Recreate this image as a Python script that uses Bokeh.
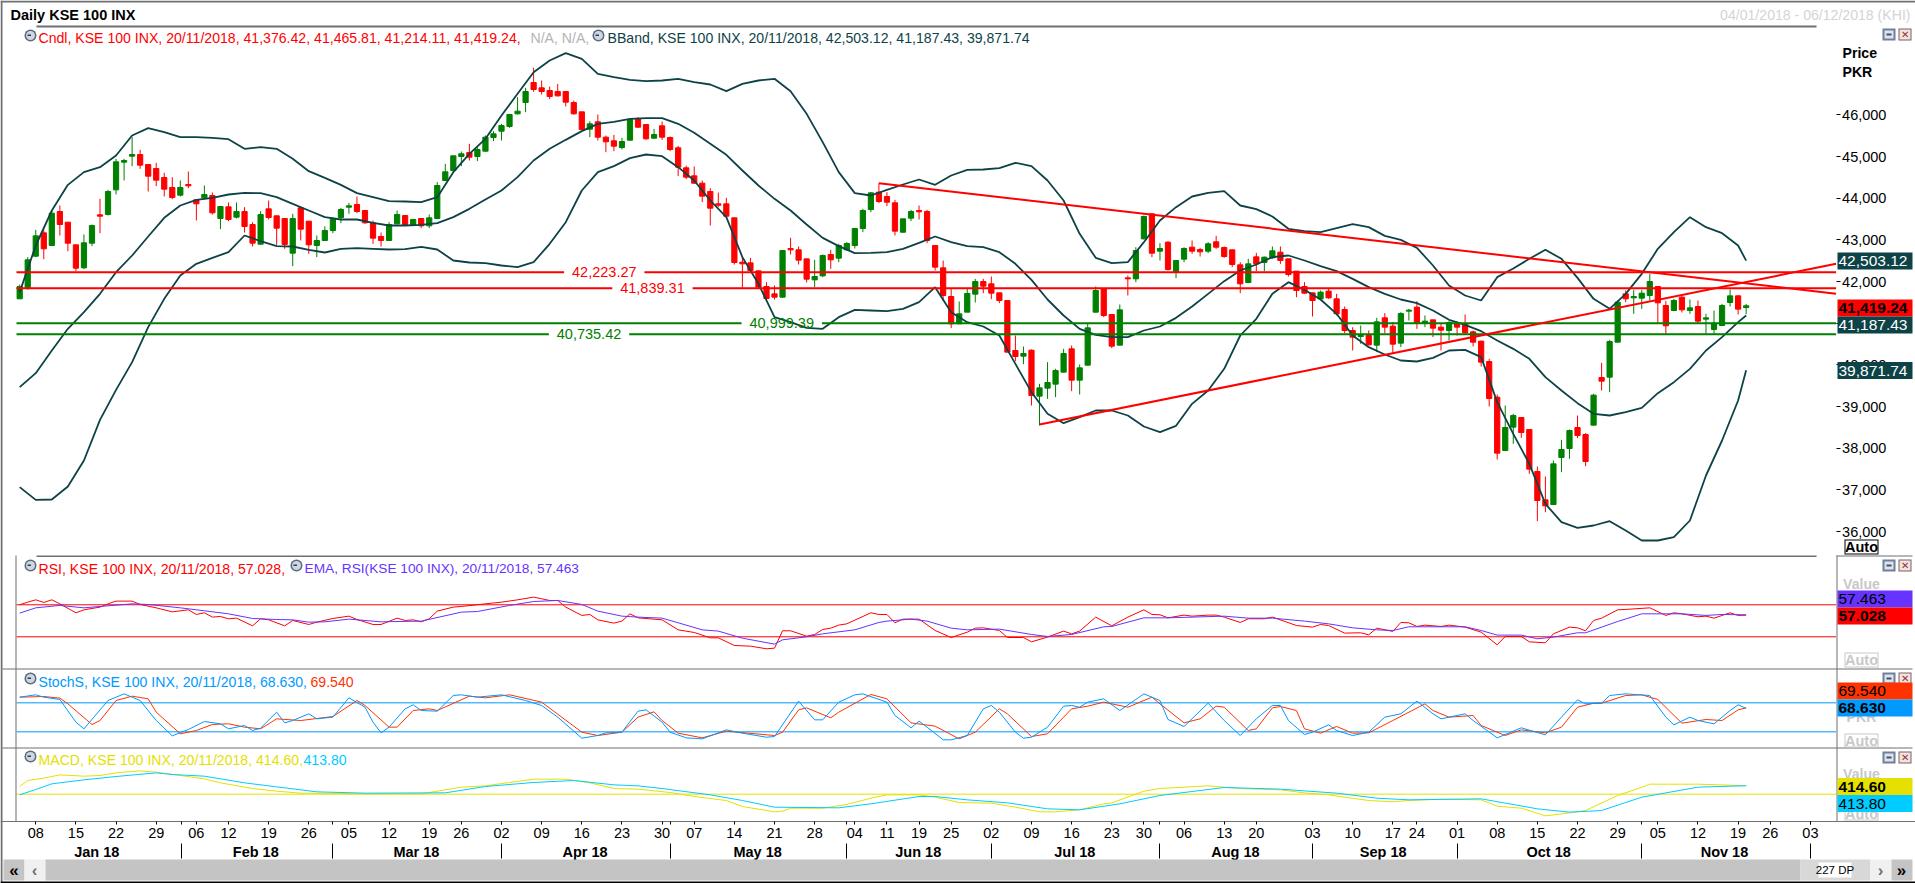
from bokeh.embed import file_html
from bokeh.models import BoxAnnotation, FixedTicker, Label, LinearAxis, NumeralTickFormatter, Range1d
from bokeh.plotting import figure
from bokeh.resources import INLINE

# Daily candles for KSE 100
candle_open = [
    41586, 41850, 42610, 43170, 42866, 43682, 43426, 42882, 42330, 42922,
    43602, 43610, 44202, 44866, 45010, 45050, 44810, 44714, 44498, 44258,
    44074, 44330, 43962, 44010, 44066, 43514, 43794, 43546, 43682, 43370,
    42898, 43746, 43578, 43514, 42682, 43770, 43450, 42866, 42986, 43226,
    43538, 43786, 43850, 43706, 43410, 43082, 42986, 43386, 43586, 43362,
    43514, 43338, 43514, 44426, 44666, 45002, 45098, 45002, 45130, 45458,
    45610, 45722, 46026, 46298, 46778, 46650, 46586, 46562, 46562, 46298,
    46074, 45658, 45834, 45466, 45378, 45218, 45394, 45906, 45770, 45442,
    45738, 45458, 45210, 44730, 44538, 44362, 44162, 43866, 43866, 43530,
    42466, 42450, 42258, 41882, 41706, 41626, 42794, 42762, 42546, 42042,
    42138, 42650, 42562, 42762, 42866, 43274, 43730, 44146, 44042, 43890,
    43186, 43522, 43706, 43682, 42866, 42330, 41642, 40986, 41266, 41698,
    42002, 41946, 41730, 41546, 40346, 40210, 40354, 39250, 39442, 39538,
    39826, 40386, 39634, 39994, 41266, 41826, 41210, 40474, 42090, 42066,
    43026, 43626, 42730, 42946, 42234, 42538, 42826, 42770, 42730, 42954,
    42818, 42762, 42402, 41978, 42594, 42458, 42570, 42706, 42546, 42250,
    41882, 41730, 41586, 41770, 41586, 41330, 40826, 40682, 40706, 40474,
    41130, 40930, 40522, 41290, 41386, 41002, 41082, 40906, 40826, 40986,
    40986, 40794, 40570, 40082, 39226, 37946, 38506, 38738, 38450, 37442,
    36762, 36650, 37778, 37994, 38498, 38330, 38554, 39698, 39706, 40546,
    41706, 41610, 41602, 41666, 41882, 41426, 41306, 41626, 41306, 41402,
    41098, 40850, 40946, 41498, 41658, 41376.42,
]
candle_high = [
    41930, 42586, 43242, 43242, 43706, 43826, 43426, 42882, 43130, 43370,
    43986, 44202, 44946, 44946, 45466, 45162, 44810, 44850, 44610, 44506,
    44426, 44642, 43962, 44306, 44138, 43802, 43898, 43898, 43786, 43426,
    43690, 43946, 43578, 43514, 43626, 43802, 43450, 43106, 43322, 43546,
    43770, 43890, 44042, 43722, 43466, 43178, 43426, 43706, 43586, 43506,
    43514, 43610, 44386, 44826, 45018, 45122, 45306, 45226, 45506, 45610,
    45786, 46026, 46426, 46650, 47130, 46826, 46682, 46746, 46562, 46346,
    46074, 45850, 46010, 45506, 45522, 45450, 45906, 45946, 45770, 45666,
    45842, 45482, 45258, 44786, 44762, 44426, 44242, 44138, 44010, 43530,
    42586, 42570, 42258, 41986, 41906, 42746, 43050, 42842, 42546, 42522,
    42650, 42762, 42906, 42946, 43290, 43746, 44146, 44362, 44146, 43962,
    43506, 43722, 43826, 43722, 42866, 42506, 41826, 41522, 41826, 42066,
    42066, 42122, 41730, 41546, 40706, 40442, 40370, 39546, 40066, 39906,
    40386, 40466, 40010, 40986, 41882, 41826, 41210, 41450, 42146, 42826,
    43586, 43626, 42922, 42970, 42506, 42826, 42986, 42810, 42946, 43098,
    42842, 42762, 42466, 42546, 42690, 42602, 42842, 42842, 42546, 42250,
    41986, 41730, 41786, 41826, 41706, 41402, 40906, 40946, 40826, 41130,
    41242, 41026, 41266, 41346, 41530, 41186, 41082, 40986, 41050, 41050,
    41210, 40826, 40586, 40146, 39290, 39026, 38826, 38738, 38450, 37562,
    37322, 37706, 38202, 38450, 38786, 38362, 39306, 40050, 40602, 41546,
    41786, 41802, 41802, 42186, 41882, 41530, 41586, 41682, 41570, 41546,
    41226, 41306, 41466, 41810, 41674, 41465.81,
]
candle_low = [
    41586, 41802, 42586, 42538, 42850, 43106, 42730, 42250, 42298, 42850,
    43162, 43586, 44090, 44426, 44770, 44706, 44162, 44290, 44042, 43978,
    44042, 44242, 43466, 43986, 43610, 43258, 43450, 43514, 43178, 42842,
    42882, 43490, 42882, 42786, 42370, 42986, 42666, 42586, 42970, 43162,
    43402, 43626, 43642, 43386, 42906, 42842, 42986, 43370, 43346, 43346,
    43282, 43282, 43498, 44410, 44650, 44770, 44906, 44890, 45122, 45370,
    45386, 45690, 46010, 46066, 46554, 46490, 46378, 46442, 46202, 46010,
    45642, 45466, 45386, 45106, 45130, 45170, 45386, 45690, 45402, 45426,
    45402, 45130, 44530, 44458, 44346, 43906, 43346, 43786, 43562, 42410,
    41850, 42250, 41850, 41546, 41570, 41610, 42650, 42410, 41978, 41866,
    42106, 42306, 42466, 42746, 42794, 43186, 43666, 43882, 43810, 43106,
    43170, 43450, 43490, 42922, 42266, 41530, 40882, 40986, 41266, 41498,
    41722, 41578, 41482, 40306, 40090, 40018, 39026, 38546, 39186, 39226,
    39818, 39370, 39290, 39986, 41258, 41146, 40402, 40466, 41666, 41986,
    43010, 42586, 42506, 42266, 42082, 42466, 42666, 42602, 42682, 42786,
    42570, 42346, 41722, 41962, 42250, 42250, 42546, 42426, 42122, 41626,
    41706, 41162, 41570, 41586, 41186, 40762, 40346, 40506, 40466, 40306,
    40762, 40266, 40426, 41066, 40866, 40906, 40666, 40346, 40586, 40706,
    40746, 40442, 39962, 39002, 37730, 37930, 38106, 38250, 37386, 36250,
    36466, 36650, 37426, 37746, 38242, 37570, 38546, 39386, 39346, 40538,
    41506, 41226, 41346, 41546, 41002, 40746, 41290, 41258, 41226, 41002,
    40746, 40746, 40930, 41402, 41210, 41214.11,
]
candle_close = [
    41882, 42522, 43098, 42786, 43642, 43370, 42922, 42322, 42930, 43346,
    43570, 44162, 44874, 44906, 45050, 44794, 44530, 44434, 44218, 44018,
    44258, 44298, 43866, 44090, 43650, 43802, 43490, 43682, 43322, 42922,
    43610, 43538, 43282, 42890, 43514, 43258, 42882, 42986, 43226, 43506,
    43730, 43818, 43682, 43410, 43042, 42986, 43370, 43610, 43370, 43490,
    43338, 43530, 44306, 44634, 45018, 45066, 44986, 45170, 45466, 45546,
    45746, 46010, 46090, 46562, 46610, 46562, 46442, 46458, 46306, 46026,
    45650, 45786, 45466, 45354, 45250, 45362, 45890, 45706, 45426, 45530,
    45466, 45170, 44746, 44506, 44362, 44050, 43762, 43834, 43570, 42458,
    42426, 42266, 41866, 41594, 41626, 42746, 42762, 42514, 42058, 42122,
    42626, 42522, 42866, 42914, 43274, 43706, 44130, 43922, 43906, 43210,
    43506, 43682, 43674, 42986, 42346, 41666, 40986, 41226, 41714, 42002,
    41890, 41722, 41546, 40306, 40202, 40274, 39266, 39450, 39578, 39866,
    40274, 39634, 39930, 40890, 41786, 41186, 40450, 41322, 42066, 42746,
    43562, 42682, 42794, 42290, 42506, 42794, 42730, 42714, 42906, 42826,
    42602, 42410, 41946, 42426, 42426, 42586, 42738, 42506, 42170, 41786,
    41722, 41546, 41746, 41610, 41226, 40826, 40666, 40706, 40482, 41034,
    40906, 40498, 41234, 41314, 41010, 41050, 40882, 40834, 41018, 40906,
    40770, 40546, 40066, 39194, 37882, 38498, 38786, 38378, 37498, 36746,
    36618, 37626, 37970, 38426, 38306, 37682, 39274, 39610, 40562, 41506,
    41586, 41642, 41722, 42002, 41490, 40938, 41546, 41322, 41370, 41050,
    41130, 41002, 41426, 41658, 41338, 41419.24,
]

# Bollinger bands, read every second bar plus the last one
band_bars = list(range(0, 216, 2)) + [215]
band_upper = [
    41746, 42866, 43706, 44322, 44626, 44746, 45026, 45506, 45682, 45586,
    45466, 45466, 45450, 45418, 45186, 45226, 45186, 44946, 44650, 44490,
    44322, 44122, 44026, 43930, 43922, 43906, 44026, 44626, 45066, 45426,
    45986, 46506, 47026, 47306, 47482, 47346, 46986, 46906, 46842, 46810,
    46826, 46866, 46786, 46730, 46570, 46746, 46826, 46866, 46570, 46026,
    45346, 44626, 44122, 44066, 44202, 44330, 44450, 44322, 44546, 44682,
    44690, 44722, 44850, 44770, 44426, 43946, 43146, 42570, 42442, 42466,
    42946, 43466, 43786, 44042, 44130, 44170, 43826, 43738, 43562, 43266,
    43210, 43186, 43282, 43378, 43306, 43098, 43002, 42810, 42386, 41906,
    41666, 41546, 42106, 42314, 42546, 42762, 42546, 42090, 41586, 41346,
    41706, 42186, 42786, 43186, 43546, 43306, 43162, 42866, 42503.12,
]
band_middle = [
    39466, 39802, 40346, 40866, 41266, 41706, 42226, 42626, 43082, 43530,
    43826, 43962, 44010, 44090, 44130, 44122, 44026, 43866, 43706, 43546,
    43490, 43490, 43410, 43346, 43346, 43362, 43402, 43546, 43746, 43970,
    44186, 44506, 44906, 45186, 45402, 45610, 45786, 45834, 45906, 45922,
    45922, 45786, 45570, 45306, 45042, 44666, 44306, 43986, 43706, 43370,
    43050, 42850, 42682, 42690, 42706, 42786, 42930, 43082, 42946, 42850,
    42826, 42706, 42426, 42042, 41570, 41186, 40866, 40722, 40666, 40666,
    40826, 40922, 41130, 41402, 41706, 42010, 42266, 42410, 42586, 42626,
    42506, 42370, 42250, 42066, 41866, 41706, 41570, 41482, 41306, 41082,
    40962, 40810, 40586, 40386, 40146, 39706, 39386, 39082, 38826, 38786,
    38866, 38970, 39322, 39586, 39906, 40346, 40666, 41026, 41187.43,
]
band_lower = [
    37066, 36762, 36770, 37082, 37706, 38682, 39402, 40066, 40906, 41586,
    42146, 42426, 42570, 42706, 43106, 42970, 42850, 42842, 42762, 42698,
    42786, 42802, 42786, 42770, 42778, 42834, 42770, 42506, 42458, 42442,
    42386, 42346, 42466, 42906, 43426, 44186, 44626, 44770, 44962, 45050,
    45010, 44746, 44426, 43946, 43546, 42586, 41946, 41146, 41026, 40890,
    40866, 41146, 41322, 41306, 41290, 41346, 41506, 41866, 41266, 41026,
    40922, 40706, 40026, 39346, 38826, 38602, 38746, 38906, 38906, 38786,
    38522, 38386, 38538, 39066, 39386, 39906, 40706, 41106, 41706, 41986,
    41802, 41570, 41226, 40706, 40426, 40250, 40106, 40082, 40170, 40346,
    40362, 40186, 39106, 38346, 37626, 36666, 36226, 36090, 36146, 36250,
    36026, 35786, 35786, 35866, 36266, 37346, 38186, 39146, 39871.74,
]

# Horizontal price levels: value, colour, bar where the value is written
level_values = [42223.27, 41839.31, 40999.39, 40735.42]
level_texts = ["42,223.27", "41,839.31", "40,999.39", "40,735.42"]
level_colors = ["#ff0000", "#ff0000", "#008000", "#008000"]
level_bars = [72.8, 78.8, 94.9, 70.9]

# Trend lines
trend_bars = [[107, 226.2], [127, 226.2]]
trend_prices = [[44362, 41706], [38570, 42426]]

# (bar, value) readings of the indicators
rsi_points = [
    (0, 70.0), (1, 73.3), (2, 76.2), (3, 72.9), (4, 76.2), (5, 71.2), (7, 60.0), (8, 63.7), (10, 67.1), (11, 71.2),
    (12, 74.6), (14, 74.6), (15, 70.4), (17, 66.2), (19, 61.2), (21, 63.7), (22, 57.9), (23, 60.0), (24, 54.6),
    (25, 55.4), (26, 52.5), (27, 53.3), (29, 43.7), (30, 52.5), (31, 51.2), (33, 43.7), (34, 50.4), (36, 45.4),
    (37, 48.3), (39, 52.9), (41, 55.8), (42, 51.6), (44, 45.4), (45, 45.4), (47, 53.3), (48, 50.4), (49, 51.2),
    (50, 48.7), (51, 52.5), (52, 62.1), (54, 67.1), (55, 67.9), (58, 71.2), (60, 73.3), (62, 76.2), (64, 79.6),
    (65, 77.5), (66, 75.4), (67, 75.4), (68, 67.1), (70, 56.7), (71, 57.9), (72, 51.2), (74, 47.1), (75, 49.6),
    (76, 58.7), (77, 53.7), (80, 51.2), (82, 38.7), (84, 35.4), (86, 28.7), (87, 28.7), (89, 19.1), (91, 18.3),
    (93, 15.0), (94, 15.8), (95, 37.5), (96, 37.5), (98, 30.8), (99, 32.9), (100, 39.1), (101, 40.8), (102, 44.6),
    (103, 46.2), (106, 60.0), (107, 57.9), (108, 57.9), (109, 47.5), (110, 52.1), (112, 52.1), (114, 37.9),
    (116, 29.1), (118, 35.8), (119, 40.8), (120, 41.2), (122, 37.9), (123, 29.1), (125, 29.1), (126, 23.7),
    (128, 29.6), (130, 37.1), (131, 33.7), (132, 37.1), (134, 54.6), (136, 43.7), (138, 54.6), (140, 63.7),
    (141, 57.9), (142, 57.5), (143, 53.7), (145, 57.1), (146, 55.8), (148, 57.1), (149, 57.1), (150, 54.6),
    (152, 47.9), (153, 52.5), (155, 52.5), (156, 54.6), (159, 44.1), (161, 42.1), (162, 45.4), (163, 44.1),
    (165, 34.6), (167, 35.0), (168, 32.5), (169, 40.8), (171, 36.7), (172, 47.9), (173, 47.5), (174, 42.9),
    (175, 44.6), (177, 42.9), (178, 44.6), (180, 42.1), (182, 35.8), (184, 20.0), (185, 30.4), (187, 30.4),
    (188, 23.7), (190, 22.5), (191, 33.7), (193, 42.1), (194, 41.2), (195, 37.5), (196, 50.4), (197, 53.3),
    (199, 63.7), (200, 64.2), (203, 66.2), (205, 56.7), (206, 60.0), (207, 58.7), (209, 55.0), (210, 55.8),
    (211, 53.3), (213, 60.0), (214, 56.7), (215, 57.028),
]
rsi_ema_points = [
    (0, 59.6), (2, 66.2), (5, 69.2), (8, 66.2), (10, 67.9), (14, 71.2), (16, 70.4), (20, 66.2), (23, 62.5),
    (26, 58.7), (29, 52.9), (32, 51.6), (34, 51.2), (36, 48.3), (38, 48.7), (41, 52.1), (45, 48.7), (50, 49.6),
    (55, 60.8), (57, 61.6), (61, 69.2), (64, 74.1), (67, 75.4), (70, 70.4), (72, 62.1), (75, 55.8), (77, 54.6),
    (80, 53.3), (82, 47.5), (85, 38.7), (87, 37.1), (90, 28.3), (94, 20.8), (95, 26.2), (98, 30.0), (100, 33.7),
    (104, 38.7), (107, 47.9), (108, 49.6), (111, 52.1), (113, 49.6), (116, 40.8), (118, 38.7), (122, 39.6),
    (126, 32.9), (128, 30.4), (131, 32.9), (135, 42.5), (136, 42.9), (140, 53.7), (143, 53.7), (150, 55.8),
    (153, 53.3), (156, 53.3), (160, 49.6), (163, 46.2), (166, 41.2), (169, 38.7), (171, 37.9), (173, 42.5),
    (176, 42.5), (180, 42.5), (182, 37.9), (184, 32.1), (187, 32.1), (189, 27.5), (191, 29.6), (194, 35.0),
    (195, 35.0), (199, 49.1), (202, 58.7), (207, 58.7), (210, 56.7), (212, 57.9), (215, 57.463),
]
stoch_k_points = [
    (0, 91.7), (2, 96.6), (3, 91.7), (5, 86.9), (7, 40.0), (8, 26.2), (11, 84.8), (13, 98.6), (15, 84.8), (17, 43.4),
    (19, 11.7), (21, 24.8), (23, 41.4), (25, 36.6), (26, 26.2), (28, 33.1), (29, 22.8), (30, 27.6), (32, 60.7),
    (33, 38.6), (34, 43.4), (36, 57.3), (37, 46.9), (39, 50.4), (41, 90.4), (43, 71.0), (44, 40.0), (45, 17.9),
    (46, 29.7), (48, 67.6), (49, 75.9), (50, 64.1), (52, 62.8), (54, 95.2), (55, 96.6), (57, 91.7), (60, 96.6),
    (63, 84.8), (65, 74.5), (67, 50.4), (70, 6.9), (72, 12.4), (73, 17.9), (75, 19.3), (77, 62.8), (78, 65.5),
    (80, 40.0), (81, 19.3), (83, 7.6), (85, 5.5), (88, 24.1), (90, 17.2), (93, 8.9), (94, 10.3), (97, 83.5),
    (99, 44.8), (100, 44.8), (102, 81.4), (104, 96.6), (105, 98.6), (108, 81.4), (109, 53.8), (111, 28.3),
    (112, 42.1), (113, 29.7), (115, 3.5), (116, 3.5), (118, 12.4), (120, 67.6), (121, 74.5), (122, 60.7),
    (124, 19.3), (125, 6.9), (126, 8.9), (128, 29.7), (130, 73.1), (131, 74.5), (132, 71.0), (133, 81.4),
    (135, 88.3), (137, 64.1), (140, 98.6), (142, 84.8), (143, 45.5), (145, 31.1), (148, 79.3), (150, 43.4),
    (152, 12.4), (154, 46.9), (156, 74.5), (157, 74.5), (158, 43.4), (160, 14.5), (161, 19.3), (163, 34.5),
    (164, 22.8), (166, 12.4), (168, 19.3), (170, 50.4), (172, 57.3), (174, 83.5), (176, 57.3), (177, 46.9),
    (180, 57.3), (181, 43.4), (184, 7.6), (187, 28.3), (190, 13.8), (192, 50.4), (194, 86.2), (195, 77.9),
    (197, 79.3), (198, 95.2), (200, 98.6), (203, 95.2), (205, 50.4), (206, 34.5), (208, 50.4), (209, 43.4),
    (211, 36.6), (213, 64.1), (214, 75.9), (215, 68.63),
]
stoch_d_points = [
    (0, 91.7), (3, 93.1), (5, 89.7), (6, 77.9), (9, 35.2), (10, 43.4), (12, 84.8), (14, 93.8), (16, 88.3), (17, 60.7),
    (20, 15.9), (22, 22.8), (24, 35.2), (26, 36.6), (28, 29.7), (30, 26.2), (32, 46.9), (35, 43.4), (39, 51.7),
    (42, 84.8), (43, 74.5), (46, 29.7), (47, 29.7), (49, 64.1), (51, 67.6), (52, 64.1), (56, 93.8), (58, 90.4),
    (61, 96.6), (65, 81.4), (70, 19.3), (72, 12.4), (75, 19.3), (77, 50.4), (79, 61.4), (80, 43.4), (82, 17.2),
    (85, 7.6), (88, 21.4), (94, 12.4), (95, 19.3), (97, 65.5), (98, 69.6), (101, 49.0), (102, 60.7), (106, 97.3),
    (108, 88.3), (111, 38.6), (114, 31.7), (117, 5.5), (119, 19.3), (122, 67.6), (123, 57.3), (126, 10.3),
    (128, 15.9), (131, 67.6), (133, 73.1), (135, 81.4), (138, 71.0), (141, 91.7), (142, 77.9), (145, 38.6),
    (147, 46.9), (149, 73.1), (150, 71.0), (153, 22.8), (154, 26.2), (156, 69.6), (157, 72.4), (159, 64.1),
    (160, 26.2), (162, 17.2), (164, 31.1), (166, 17.2), (168, 17.9), (171, 43.4), (175, 77.9), (176, 64.1),
    (178, 50.4), (181, 53.8), (182, 33.1), (185, 12.4), (187, 24.1), (190, 17.9), (192, 29.7), (194, 71.0),
    (196, 79.3), (197, 79.3), (200, 95.2), (202, 96.6), (204, 86.9), (207, 37.9), (210, 45.5), (212, 43.4),
    (214, 65.5), (215, 69.54),
]
macd_points = [
    (0, 375), (1, 668), (3, 782), (5, 945), (8, 880), (10, 913), (12, 1043), (15, 1141), (17, 1076), (20, 913),
    (23, 750), (25, 554), (29, 277), (32, 147), (35, 49), (40, 33), (43, 16), (50, 16), (52, 147), (55, 342),
    (58, 408), (61, 571), (64, 734), (68, 734), (71, 554), (74, 277), (77, 245), (81, 82), (84, -114), (88, -310),
    (90, -603), (94, -864), (95, -831), (96, -685), (100, -685), (103, -505), (106, -196), (108, -33), (112, -33),
    (114, -147), (117, -408), (121, -440), (124, -636), (127, -864), (129, -864), (132, -766), (135, -473),
    (136, -424), (140, 147), (142, 277), (145, 342), (148, 408), (152, 277), (157, 212), (160, 65), (163, -33),
    (165, -147), (168, -310), (171, -375), (173, -310), (177, -245), (182, -277), (184, -587), (187, -685),
    (190, -1060), (193, -913), (195, -799), (199, -65), (202, 342), (203, 489), (209, 489), (213, 440), (215, 414.6),
]
macd_signal_points = [
    (0, -33), (2, 228), (4, 505), (8, 701), (12, 864), (17, 1043), (19, 962), (23, 880), (28, 554), (32, 359),
    (37, 114), (43, 49), (53, 65), (58, 375), (64, 571), (69, 668), (74, 456), (77, 408), (80, 277), (86, -33),
    (90, -310), (94, -636), (102, -668), (106, -473), (112, -114), (114, -114), (118, -277), (123, -424),
    (128, -717), (132, -766), (137, -473), (142, -65), (150, 326), (157, 245), (164, 49), (169, -196), (173, -277),
    (182, -228), (189, -717), (193, -880), (197, -799), (202, -147), (209, 342), (215, 413.8),
]

# Bottom axis
week_bars = [2, 7, 12, 17, 22, 26, 31, 36, 41, 46, 51, 55, 60, 65, 70, 75, 80, 84, 89, 94, 99, 104, 108, 112, 116,
             121, 126, 131, 136, 140, 145, 150, 154, 161, 166, 171, 174, 179, 184, 189, 194, 199, 204, 209, 214, 218,
             223]
week_labels = ["08", "15", "22", "29", "06", "12", "19", "26", "05", "12", "19", "26", "02", "09", "16", "23", "30",
               "07", "14", "21", "28", "04", "11", "19", "25", "02", "09", "16", "23", "30", "06", "13", "20", "03",
               "10", "17", "24", "01", "08", "15", "22", "29", "05", "12", "19", "26", "03"]
month_bars = [9.6, 29.4, 49.4, 70.4, 91.9, 111.9, 131.4, 151.4, 169.8, 190.4, 212.3]
month_labels = ["Jan 18", "Feb 18", "Mar 18", "Apr 18", "May 18", "Jun 18", "Jul 18", "Aug 18", "Sep 18", "Oct 18",
                "Nov 18"]
month_edges = [20.1, 39, 60, 81, 103, 121, 142, 161, 179, 202, 223]
price_ticks = [36000, 37000, 38000, 39000, 40000, 41000, 42000, 43000, 44000, 45000, 46000]

FONT = "Liberation Sans"
RED = "#ff0000"
GREEN = "#008000"
BAND = "#0d4347"
RSI_EMA = "#6633ff"
STOCH_BLUE = "#0099ff"
STOCH_RED = "#ff3300"
MACD_YELLOW = "#e6e000"
MACD_BLUE = "#00ccff"
GREY = "#c8c8c8"
RULE = "#707070"
TEXT_SIZE = "14.1px"

# the frame fills the page, so the window furniture round the chart is not clipped
BAR_LEFT, BAR_RIGHT = -0.4, 226.2


def unzip(points):
    return [b for b, _ in points], [v for _, v in points]


p = figure(width=1915, height=883, output_backend="svg", toolbar_location=None, tools="",
           x_range=Range1d(-2.391, 236.09), y_range=Range1d(27554, 48746),
           x_axis_location=None, y_axis_location=None, min_border=0, outline_line_color=None)
p.grid.visible = False

# every indicator shares the frame, its range places it in its own strip
p.extra_y_ranges = {
    "rsi": Range1d(-278.4, 825.4),
    "stoch": Range1d(-293.8, 1533.2),
    "macd": Range1d(-4368, 38810),
}

# Axes sit inside the frame at a fixed location, so they take no border space
price_axis = LinearAxis(ticker=FixedTicker(ticks=price_ticks), formatter=NumeralTickFormatter(format="0,0"),
                        fixed_location=BAR_RIGHT, axis_line_color=None, major_tick_in=0, major_tick_out=4,
                        minor_tick_line_color=None, major_label_standoff=2, major_label_text_font=FONT,
                        major_label_text_font_size="14.5px", major_label_text_color="#000000")
p.add_layout(price_axis, "right")

week_axis = LinearAxis(ticker=FixedTicker(ticks=week_bars, minor_ticks=month_edges),
                       major_label_overrides=dict(zip(week_bars, week_labels)), fixed_location=29042,
                       axis_line_color=RULE, major_tick_in=0, major_tick_out=3, minor_tick_in=0, minor_tick_out=3,
                       major_label_standoff=3, major_label_text_font=FONT, major_label_text_font_size="14.5px",
                       major_label_text_color="#000000")
p.add_layout(week_axis, "below")

month_axis = LinearAxis(ticker=FixedTicker(ticks=[], minor_ticks=month_edges), fixed_location=28514,
                        axis_line_color=None, major_tick_line_color=None, major_tick_in=0, major_tick_out=0,
                        minor_tick_in=0, minor_tick_out=15, minor_tick_line_color="#000000",
                        major_label_text_font_size="0px")
p.add_layout(month_axis, "below")

# Candles
bars = list(range(len(candle_open)))
candle_colors = [GREEN if c >= o else RED for o, c in zip(candle_open, candle_close)]
p.segment(bars, candle_high, bars, candle_low, color=candle_colors, line_width=1)
p.vbar(bars, top=candle_open, bottom=candle_close, width=0.65, fill_color=candle_colors, line_color=candle_colors)

# Bollinger bands
for band in (band_upper, band_middle, band_lower):
    p.line(band_bars, band, color=BAND, line_width=1.8)

# Price levels, broken where their value is written
for value, text_value, color, bar in zip(level_values, level_texts, level_colors, level_bars):
    p.segment([BAR_LEFT, bar + 5], [value, value], [bar - 5, BAR_RIGHT], [value, value], color=color, line_width=2)
    p.add_layout(Label(x=bar, y=value, text=text_value, text_color=color, text_align="center", text_baseline="middle",
                       text_font=FONT, text_font_size="14.5px"))

p.multi_line(trend_bars, trend_prices, color=RED, line_width=2)

# RSI strip
p.segment([BAR_LEFT, BAR_LEFT], [70, 30], [BAR_RIGHT, BAR_RIGHT], [70, 30], color=RED, line_width=1,
          y_range_name="rsi")
x, y = unzip(rsi_points)
p.line(x, y, color=RED, line_width=1, y_range_name="rsi")
x, y = unzip(rsi_ema_points)
p.line(x, y, color=RSI_EMA, line_width=1, y_range_name="rsi")

# Stochastic strip
p.segment([BAR_LEFT, BAR_LEFT], [80, 20], [BAR_RIGHT, BAR_RIGHT], [80, 20], color=STOCH_BLUE, line_width=1,
          y_range_name="stoch")
x, y = unzip(stoch_d_points)
p.line(x, y, color=STOCH_RED, line_width=1, y_range_name="stoch")
x, y = unzip(stoch_k_points)
p.line(x, y, color=STOCH_BLUE, line_width=1, y_range_name="stoch")

# MACD strip
p.segment([BAR_LEFT], [0], [BAR_RIGHT], [0], color=MACD_YELLOW, line_width=1, y_range_name="macd")
x, y = unzip(macd_points)
p.line(x, y, color=MACD_YELLOW, line_width=1, y_range_name="macd")
x, y = unzip(macd_signal_points)
p.line(x, y, color=MACD_BLUE, line_width=1, y_range_name="macd")


# Window furniture around the chart, placed in page pixels
def box(x0, y0, x1, y1, color, **kw):
    p.add_layout(BoxAnnotation(left=x0, right=x1, top=y0, bottom=y1, left_units="canvas", right_units="canvas",
                               top_units="canvas", bottom_units="canvas", fill_color=color, fill_alpha=1,
                               line_color=None, **kw))


def text(x, y, value, color="#000000", size=TEXT_SIZE, style="normal", align="left"):
    p.add_layout(Label(x=x, y=y, x_units="canvas", y_units="canvas", text=value, text_color=color,
                       text_font=FONT, text_font_size=size, text_font_style=style, text_align=align,
                       text_baseline="middle"))


def tag(y, value, fill, color, style="normal"):
    box(1837, y - 8.5, 1912, y + 8.5, fill)
    text(1838, y, value, color=color, style=style, size="15.5px")


def auto_button(y0, y1, color):
    box(1844, y0, 1878, y1, color)
    box(1845, y0 + 1, 1877, y1 - 1, "#ffffff")
    text(1861, (y0 + y1) / 2, "Auto", color=color, style="bold", align="center", size="14.5px")


def window_buttons(y):
    box(1882, y - 6, 1895, y + 6, "#6f7f9f")
    box(1884, y - 4, 1893, y + 4, "#dfe3ea")
    box(1886, y - 1, 1891, y + 1, "#3f4f6f")
    box(1898, y - 6, 1911, y + 6, "#7f5f5f")
    box(1899, y - 5, 1910, y + 5, "#efe3e3")
    text(1904.5, y, "\u2715", color="#a03030", size="10px", align="center")


def clock(x, y):
    box(x - 6, y - 6, x + 6, y + 6, "#5a6a80", border_radius=6)
    box(x - 4.5, y - 4.5, x + 4.5, y + 4.5, "#cfd6e0", border_radius=5)
    box(x - 3, y - 1, x + 0.5, y + 0.5, "#30405a")


# month names under the weeks
for bar, month in zip(month_bars, month_labels):
    p.add_layout(Label(x=bar, y=851, y_units="canvas", text=month, text_color="#000000", text_font=FONT,
                       text_font_size="14.5px", text_font_style="bold", text_align="center",
                       text_baseline="middle"))

# frame rules
box(0, 0, 1915, 2, RULE)
box(0, 0, 2, 883, RULE)
box(36, 25, 1816, 27, RULE)
box(36, 555, 1816, 556.5, RULE)
box(2, 668, 1836, 669, RULE)
box(2, 747, 1836, 748, RULE)
box(15, 555, 16, 821, RULE)
box(1836, 555, 1837, 821, RULE)
box(1836, 555, 1912, 556, RULE)
box(1836, 668, 1912, 669, RULE)
box(1836, 747, 1912, 748, RULE)

# titles
text(10, 14, "Daily KSE 100 INX", style="bold", size="14.5px")
text(1910, 14, "04/01/2018 - 06/12/2018 (KHI)", color="#d4d4d4", align="right")
text(1842, 52, "Price", style="bold")
text(1842, 71, "PKR", style="bold")

# legends
clock(30, 35)
text(38, 37, "Cndl, KSE 100 INX, 20/11/2018, 41,376.42, 41,465.81, 41,214.11, 41,419.24,", color=RED)
text(530, 37, "N/A, N/A,", color="#b4b4b4")
clock(598, 35)
text(607, 37, "BBand, KSE 100 INX, 20/11/2018, 42,503.12, 41,187.43, 39,871.74", color=BAND)

clock(30, 565)
text(38, 568, "RSI, KSE 100 INX, 20/11/2018, 57.028,", color=RED)
clock(296, 565)
text(304, 568, "EMA, RSI(KSE 100 INX), 20/11/2018, 57.463", color=RSI_EMA, size="13.7px")

clock(30, 678)
text(38, 681, "StochS, KSE 100 INX, 20/11/2018, 68.630,", color=STOCH_BLUE)
text(310, 681, "69.540", color=STOCH_RED)

clock(30, 756)
text(38, 759, "MACD, KSE 100 INX, 20/11/2018, 414.60,", color=MACD_YELLOW)
text(303, 759, "413.80", color=MACD_BLUE)

# right hand side
for y in (34, 565, 678, 757):
    window_buttons(y)
auto_button(539, 554, "#000000")
auto_button(652, 667, GREY)
auto_button(733, 747, GREY)
auto_button(807, 820, GREY)
text(1861, 583, "Value", color=GREY, style="bold", align="center")
text(1861, 716, "PKR", color=GREY, style="bold", align="center")
text(1861, 773, "Value", color=GREY, style="bold", align="center")

tag(260.5, "42,503.12", BAND, "#ffffff")
tag(307.5, "41,419.24", RED, "#000000", style="bold")
tag(324.5, "41,187.43", BAND, "#ffffff")
tag(370, "39,871.74", BAND, "#ffffff")
tag(598.5, "57.463", RSI_EMA, "#000000")
tag(615.5, "57.028", RED, "#000000", style="bold")
tag(690.5, "69.540", STOCH_RED, "#000000")
tag(707.5, "68.630", STOCH_BLUE, "#000000", style="bold")
tag(786, "414.60", MACD_YELLOW, "#000000", style="bold")
tag(803, "413.80", MACD_BLUE, "#000000")

# scrollbar
box(3, 859, 24, 880, "#c4c4c4")
box(24, 859, 45, 880, "#f0f0f0")
box(45, 859, 1800, 880, "#c4c4c4")
box(1800, 859, 1870, 880, "#d8d8d8")
box(1818, 862, 1851, 877, "#ffffff")
box(1870, 859, 1891, 880, "#f0f0f0")
box(1891, 859, 1912, 880, "#c4c4c4")
box(0, 881, 1915, 883, "#000000")
text(13.5, 869.5, "\u00ab", style="bold", size="17px", align="center")
text(34, 869.5, "\u2039", color="#707070", style="bold", size="17px", align="center")
text(1834.5, 869.5, "227 DP", size="11.5px", align="center")
text(1880, 869.5, "\u203a", color="#707070", style="bold", size="17px", align="center")
text(1901, 869.5, "\u00bb", style="bold", size="17px", align="center")

open("out.html", "w").write(file_html(p, INLINE))
